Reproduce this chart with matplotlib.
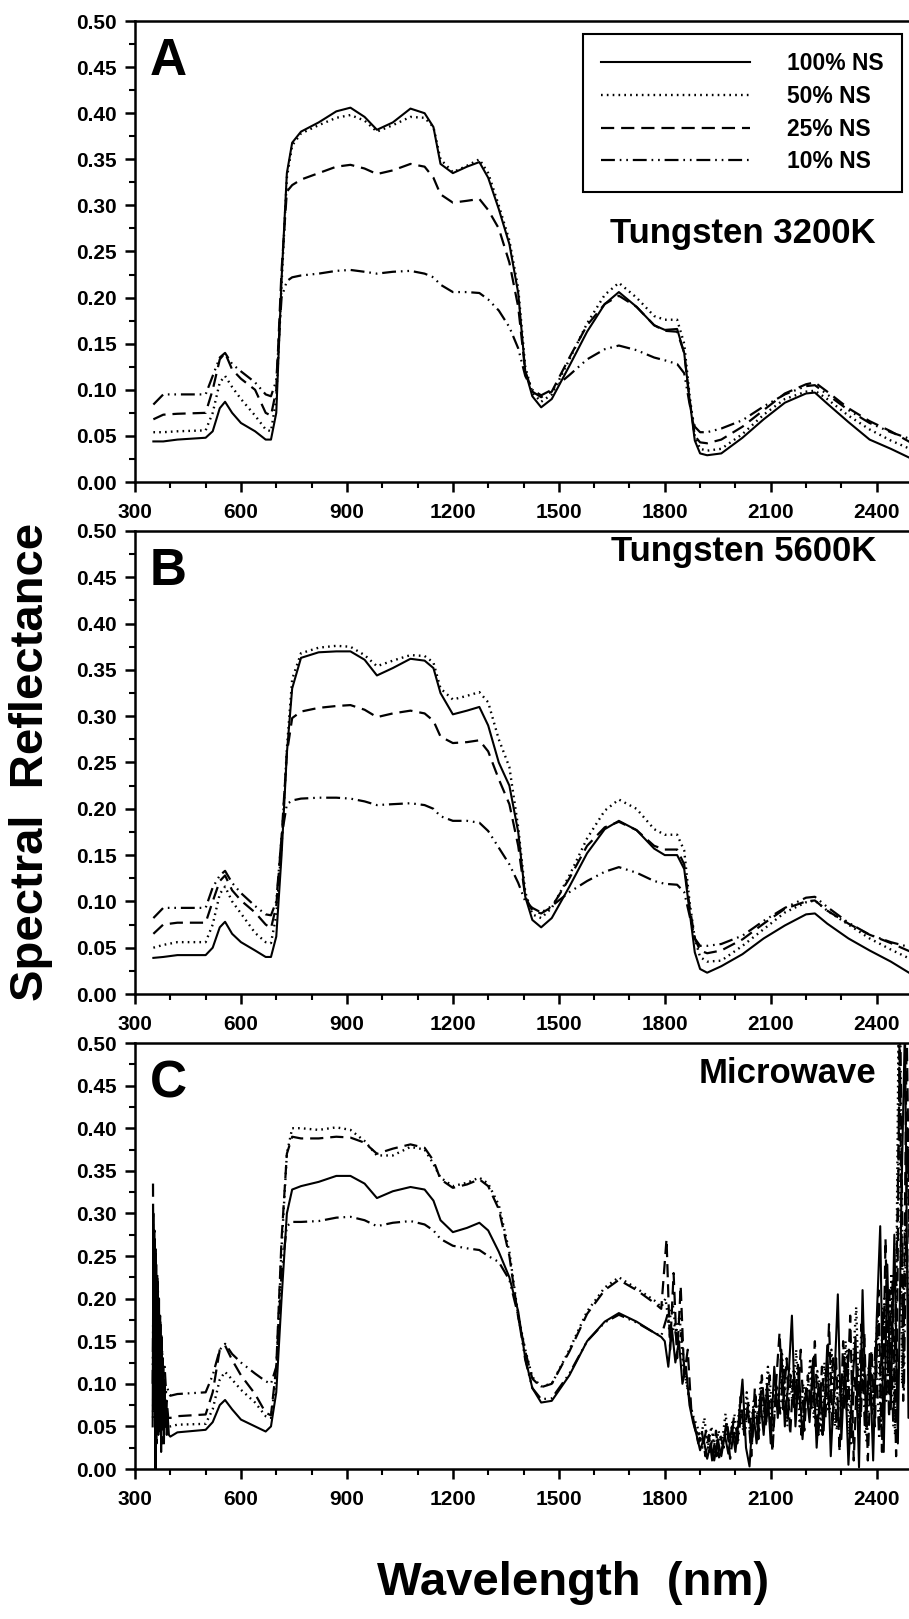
import matplotlib
matplotlib.use('Agg')
import matplotlib.pyplot as plt
from matplotlib.lines import Line2D
from matplotlib.ticker import MultipleLocator, FormatStrFormatter

plt.rcParams['font.family'] = ['Liberation Sans', 'DejaVu Sans']
plt.rcParams['font.weight'] = 'bold'
plt.rcParams['lines.scale_dashes'] = False

labels = ['100% NS', '50% NS', '25% NS', '10% NS']

# wavelength grid used for the smooth spectra (panels A and B)
wl_ab = [352, 380, 420, 500, 520, 540, 555, 575, 600, 640, 670, 685, 700, 715, 730, 745,
         770, 820, 870, 910, 950, 985, 1030, 1080, 1120, 1145, 1165, 1200, 1240, 1275,
         1300, 1330, 1360, 1385, 1405, 1425, 1450, 1480, 1530, 1580, 1630, 1670, 1720,
         1770, 1800, 1835, 1855, 1870, 1885, 1900, 1920, 1960, 2020, 2080, 2140, 2200,
         2225, 2260, 2320, 2380, 2440, 2500]

# Panel A - Tungsten 3200K
a_100 = [0.044, 0.044, 0.046, 0.048, 0.055, 0.080, 0.087, 0.075, 0.064, 0.055, 0.046, 0.046,
         0.075, 0.220, 0.335, 0.368, 0.380, 0.390, 0.402, 0.406, 0.396, 0.382, 0.390, 0.405,
         0.400, 0.385, 0.345, 0.335, 0.342, 0.347, 0.330, 0.296, 0.258, 0.205, 0.120, 0.093,
         0.081, 0.090, 0.126, 0.163, 0.193, 0.206, 0.190, 0.170, 0.165, 0.166, 0.140, 0.090,
         0.045, 0.031, 0.029, 0.031, 0.048, 0.068, 0.086, 0.096, 0.097, 0.085, 0.065, 0.046,
         0.036, 0.025]
a_50 = [0.054, 0.054, 0.055, 0.056, 0.075, 0.108, 0.115, 0.103, 0.090, 0.072, 0.057, 0.055,
        0.090, 0.215, 0.330, 0.365, 0.378, 0.387, 0.395, 0.398, 0.392, 0.380, 0.387, 0.396,
        0.395, 0.385, 0.350, 0.336, 0.343, 0.350, 0.335, 0.300, 0.262, 0.210, 0.125, 0.097,
        0.087, 0.095, 0.133, 0.172, 0.203, 0.216, 0.200, 0.180, 0.176, 0.176, 0.150, 0.095,
        0.050, 0.036, 0.034, 0.036, 0.052, 0.073, 0.090, 0.098, 0.099, 0.090, 0.072, 0.057,
        0.045, 0.035]
a_25 = [0.068, 0.073, 0.074, 0.075, 0.100, 0.133, 0.140, 0.122, 0.112, 0.100, 0.075, 0.072,
        0.100, 0.230, 0.315, 0.322, 0.328, 0.335, 0.342, 0.344, 0.340, 0.334, 0.338, 0.345,
        0.342, 0.330, 0.312, 0.303, 0.305, 0.307, 0.295, 0.275, 0.238, 0.190, 0.120, 0.098,
        0.092, 0.098, 0.135, 0.170, 0.193, 0.202, 0.190, 0.170, 0.164, 0.163, 0.140, 0.090,
        0.050, 0.043, 0.042, 0.046, 0.060, 0.078, 0.096, 0.106, 0.108, 0.098, 0.080, 0.066,
        0.055, 0.042]
a_10 = [0.084, 0.095, 0.095, 0.095, 0.115, 0.135, 0.140, 0.128, 0.120, 0.108, 0.095, 0.093,
        0.110, 0.200, 0.218, 0.222, 0.224, 0.226, 0.229, 0.230, 0.228, 0.226, 0.228, 0.229,
        0.226, 0.222, 0.214, 0.206, 0.206, 0.205, 0.198, 0.186, 0.168, 0.145, 0.115, 0.100,
        0.094, 0.100, 0.116, 0.133, 0.144, 0.148, 0.143, 0.135, 0.132, 0.128, 0.118, 0.085,
        0.060, 0.054, 0.054, 0.058, 0.067, 0.082, 0.095, 0.104, 0.105, 0.095, 0.078, 0.064,
        0.054, 0.046]

# Panel B - Tungsten 5600K
b_100 = [0.039, 0.040, 0.042, 0.042, 0.050, 0.072, 0.078, 0.065, 0.056, 0.047, 0.040, 0.040,
         0.062, 0.150, 0.260, 0.330, 0.363, 0.369, 0.370, 0.370, 0.361, 0.344, 0.352, 0.362,
         0.360, 0.352, 0.325, 0.302, 0.306, 0.310, 0.290, 0.250, 0.225, 0.175, 0.105, 0.080,
         0.072, 0.082, 0.116, 0.152, 0.178, 0.187, 0.177, 0.157, 0.150, 0.150, 0.135, 0.090,
         0.045, 0.027, 0.023, 0.030, 0.043, 0.060, 0.074, 0.086, 0.087, 0.076, 0.060, 0.047,
         0.035, 0.021]
b_50 = [0.050, 0.053, 0.056, 0.056, 0.075, 0.108, 0.116, 0.100, 0.087, 0.066, 0.056, 0.055,
        0.085, 0.160, 0.265, 0.340, 0.368, 0.374, 0.376, 0.375, 0.366, 0.354, 0.360, 0.366,
        0.365, 0.358, 0.330, 0.318, 0.322, 0.326, 0.315, 0.275, 0.245, 0.180, 0.110, 0.086,
        0.082, 0.093, 0.128, 0.168, 0.198, 0.210, 0.200, 0.178, 0.172, 0.172, 0.155, 0.100,
        0.060, 0.040, 0.035, 0.036, 0.052, 0.070, 0.088, 0.099, 0.101, 0.090, 0.075, 0.060,
        0.048, 0.037]
b_25 = [0.065, 0.075, 0.077, 0.077, 0.100, 0.122, 0.128, 0.112, 0.101, 0.088, 0.075, 0.071,
        0.095, 0.170, 0.260, 0.298, 0.305, 0.309, 0.311, 0.312, 0.307, 0.299, 0.303, 0.306,
        0.303, 0.295, 0.278, 0.271, 0.272, 0.274, 0.262, 0.232, 0.205, 0.160, 0.105, 0.090,
        0.087, 0.094, 0.125, 0.160, 0.180, 0.186, 0.177, 0.160, 0.156, 0.156, 0.140, 0.095,
        0.060, 0.047, 0.044, 0.047, 0.059, 0.076, 0.092, 0.100, 0.101, 0.090, 0.076, 0.064,
        0.055, 0.045]
b_10 = [0.082, 0.093, 0.093, 0.093, 0.115, 0.128, 0.133, 0.120, 0.109, 0.095, 0.086, 0.085,
        0.100, 0.170, 0.205, 0.209, 0.211, 0.212, 0.212, 0.211, 0.208, 0.204, 0.205, 0.206,
        0.204, 0.200, 0.192, 0.187, 0.187, 0.185, 0.176, 0.158, 0.140, 0.120, 0.100, 0.093,
        0.088, 0.095, 0.110, 0.122, 0.132, 0.137, 0.131, 0.122, 0.119, 0.118, 0.110, 0.085,
        0.060, 0.052, 0.052, 0.054, 0.063, 0.079, 0.093, 0.104, 0.105, 0.094, 0.077, 0.064,
        0.056, 0.050]

# Panel C - Microwave: noisy start, smooth middle, noisy tail
wl_c = [400, 420, 500, 520, 540, 555, 575, 600, 640, 670, 685, 700, 715, 730, 745, 770, 820,
        870, 910, 950, 985, 1030, 1080, 1120, 1145, 1165, 1200, 1240, 1275, 1300, 1330, 1360,
        1385, 1405, 1425, 1450, 1480, 1530, 1580, 1630, 1670, 1720, 1770, 1790]
c_100 = [0.038, 0.043, 0.046, 0.055, 0.075, 0.081, 0.070, 0.058, 0.050, 0.044, 0.050, 0.090,
         0.200, 0.300, 0.328, 0.332, 0.337, 0.344, 0.344, 0.335, 0.318, 0.326, 0.331, 0.328,
         0.315, 0.292, 0.278, 0.283, 0.289, 0.280, 0.255, 0.225, 0.185, 0.130, 0.095, 0.078,
         0.080, 0.110, 0.150, 0.173, 0.183, 0.173, 0.160, 0.155]
c_50 = [0.050, 0.052, 0.053, 0.070, 0.105, 0.114, 0.105, 0.093, 0.078, 0.062, 0.060, 0.110,
        0.260, 0.370, 0.400, 0.400, 0.398, 0.401, 0.398, 0.385, 0.368, 0.368, 0.378, 0.375,
        0.358, 0.342, 0.332, 0.336, 0.342, 0.335, 0.310, 0.255, 0.180, 0.140, 0.108, 0.097,
        0.100, 0.140, 0.185, 0.213, 0.225, 0.212, 0.198, 0.190]
c_25 = [0.060, 0.062, 0.064, 0.090, 0.140, 0.145, 0.128, 0.110, 0.088, 0.066, 0.063, 0.120,
        0.270, 0.370, 0.390, 0.388, 0.388, 0.390, 0.389, 0.383, 0.370, 0.376, 0.381, 0.377,
        0.362, 0.340, 0.330, 0.334, 0.340, 0.332, 0.305, 0.250, 0.178, 0.138, 0.106, 0.096,
        0.100, 0.138, 0.182, 0.210, 0.222, 0.210, 0.195, 0.188]
c_10 = [0.086, 0.088, 0.090, 0.110, 0.140, 0.147, 0.135, 0.125, 0.112, 0.103, 0.100, 0.120,
        0.230, 0.285, 0.290, 0.290, 0.291, 0.295, 0.296, 0.292, 0.285, 0.289, 0.291, 0.287,
        0.280, 0.270, 0.262, 0.259, 0.257, 0.250, 0.243, 0.222, 0.180, 0.128, 0.095, 0.082,
        0.083, 0.112, 0.150, 0.172, 0.181, 0.172, 0.160, 0.156]

# noisy detector start (350-400 nm)
head_wl_100 = [350, 352, 354, 356, 358, 360, 362, 364, 366, 368, 370, 372, 374, 376, 378, 380,
               382, 384, 386, 388, 390, 393, 396]
head_100 = [0.05, 0.30, 0.08, 0.27, 0.00, 0.24, 0.06, 0.22, 0.04, 0.20, 0.05, 0.17, 0.02, 0.15,
            0.05, 0.12, 0.03, 0.10, 0.05, 0.08, 0.04, 0.06, 0.04]
head_wl_50 = [351, 354, 357, 360, 363, 366, 369, 372, 375, 378, 381, 384, 387, 390, 394, 398]
head_50 = [0.06, 0.22, 0.05, 0.18, 0.06, 0.15, 0.05, 0.12, 0.06, 0.10, 0.05, 0.08, 0.05, 0.065,
           0.05, 0.05]
head_wl_25 = [351, 353, 355, 357, 359, 361, 363, 365, 367, 369, 371, 373, 375, 377, 379, 381,
              384, 387, 390, 394, 398]
head_25 = [0.335, 0.07, 0.28, 0.05, 0.26, 0.03, 0.23, 0.06, 0.20, 0.04, 0.18, 0.05, 0.16, 0.03,
           0.13, 0.06, 0.10, 0.05, 0.08, 0.06, 0.06]
head_wl_10 = [350, 353, 356, 359, 362, 365, 368, 371, 374, 377, 380, 384, 388, 392, 396]
head_10 = [0.10, 0.28, 0.09, 0.25, 0.07, 0.21, 0.09, 0.18, 0.08, 0.14, 0.09, 0.12, 0.09, 0.095,
           0.088]

# noisy tail (1800-2500 nm), 10 nm steps, each series offset a little
tail_wl_100 = list(range(1800, 2501, 10))
tail_100 = [0.150, 0.120, 0.165, 0.125, 0.150, 0.100, 0.120, 0.075, 0.055, 0.040, 0.022, 0.035,
            0.012, 0.030, 0.010, 0.035, 0.015, 0.040, 0.018, 0.050, 0.020, 0.060, 0.105, 0.025,
            0.003, 0.070, 0.030, 0.085, 0.040, 0.100, 0.030, 0.120, 0.060, 0.140, 0.050, 0.105,
            0.180, 0.050, 0.115, 0.035, 0.095, 0.055, 0.130, 0.025, 0.095, 0.045, 0.145, 0.015,
            0.100, 0.205, 0.035, 0.125, 0.005, 0.090, 0.155, 0.002, 0.210, 0.050, 0.135, 0.010,
            0.175, 0.285, 0.020, 0.240, 0.070, 0.275, 0.030, 0.320, 0.520, 0.060, 0.520]
tail_wl_25 = list(range(1805, 2496, 10))
tail_25 = [0.270, 0.140, 0.230, 0.130, 0.215, 0.110, 0.140, 0.070, 0.050, 0.030, 0.045, 0.015,
           0.040, 0.008, 0.045, 0.010, 0.030, 0.055, 0.012, 0.045, 0.025, 0.085, 0.040, 0.075,
           0.015, 0.095, 0.035, 0.110, 0.050, 0.080, 0.020, 0.100, 0.160, 0.070, 0.130, 0.040,
           0.115, 0.075, 0.140, 0.045, 0.110, 0.070, 0.150, 0.040, 0.120, 0.060, 0.170, 0.050,
           0.130, 0.020, 0.150, 0.070, 0.180, 0.010, 0.120, 0.060, 0.160, 0.010, 0.140, 0.050,
           0.210, 0.020, 0.270, 0.060, 0.220, 0.015, 0.520, 0.080, 0.520, 0.200]
tail_wl_50 = list(range(1802, 2493, 10))
tail_50 = [0.200, 0.170, 0.195, 0.160, 0.180, 0.120, 0.100, 0.075, 0.060, 0.050, 0.035, 0.060,
           0.025, 0.050, 0.020, 0.045, 0.030, 0.065, 0.030, 0.055, 0.035, 0.075, 0.045, 0.090,
           0.040, 0.080, 0.050, 0.105, 0.060, 0.120, 0.055, 0.110, 0.070, 0.135, 0.060, 0.120,
           0.075, 0.140, 0.050, 0.100, 0.080, 0.130, 0.060, 0.115, 0.045, 0.125, 0.070, 0.140,
           0.050, 0.110, 0.075, 0.150, 0.040, 0.120, 0.190, 0.055, 0.130, 0.030, 0.120, 0.070,
           0.180, 0.050, 0.200, 0.090, 0.230, 0.040, 0.520, 0.100, 0.300, 0.150]
tail_wl_10 = list(range(1807, 2498, 10))
tail_10 = [0.180, 0.150, 0.170, 0.140, 0.160, 0.110, 0.090, 0.065, 0.045, 0.040, 0.025, 0.045,
           0.020, 0.040, 0.015, 0.040, 0.025, 0.050, 0.030, 0.065, 0.030, 0.070, 0.040, 0.080,
           0.030, 0.085, 0.045, 0.095, 0.055, 0.110, 0.045, 0.100, 0.065, 0.120, 0.050, 0.110,
           0.070, 0.125, 0.040, 0.090, 0.075, 0.120, 0.050, 0.105, 0.040, 0.115, 0.065, 0.130,
           0.045, 0.100, 0.070, 0.140, 0.030, 0.110, 0.060, 0.170, 0.040, 0.120, 0.065, 0.150,
           0.035, 0.190, 0.080, 0.210, 0.050, 0.250, 0.520, 0.090, 0.400, 0.180]

panel_a = [(wl_ab, a_100), (wl_ab, a_50), (wl_ab, a_25), (wl_ab, a_10)]
panel_b = [(wl_ab, b_100), (wl_ab, b_50), (wl_ab, b_25), (wl_ab, b_10)]
panel_c = [
    (head_wl_100 + wl_c + tail_wl_100, head_100 + c_100 + tail_100),
    (head_wl_50 + wl_c + tail_wl_50, head_50 + c_50 + tail_50),
    (head_wl_25 + wl_c + tail_wl_25, head_25 + c_25 + tail_25),
    (head_wl_10 + wl_c + tail_wl_10, head_10 + c_10 + tail_10),
]

styles = [
    dict(linestyle='-', linewidth=1.5),
    dict(linestyle=(0, (1.2, 3.0)), linewidth=1.7),
    dict(linestyle=(0, (9.5, 5.0)), linewidth=1.6),
    dict(linestyle=(0, (10, 3.5, 1.2, 3.5, 1.2, 3.5)), linewidth=1.6),
]

fig = plt.figure(figsize=(9.09, 16.19), dpi=100)
W, H = 909.0, 1619.0
# axes boxes in pixels: left, top, right, bottom (right spine falls just off the image)
boxes = [(135, 21, 912, 482), (135, 531, 912, 994), (135, 1043, 912, 1469)]
letters = ['A', 'B', 'C']
titles = ['Tungsten 3200K', 'Tungsten 5600K', 'Microwave']
title_y = [233, 552, 1073]

axes = []
for i, panel in enumerate([panel_a, panel_b, panel_c]):
    l, t, r, b = boxes[i]
    ax = fig.add_axes([l / W, 1 - b / H, (r - l) / W, (b - t) / H])
    for (x, y), st in zip(panel, styles):
        ax.plot(x, y, color='black', **st)
    ax.set_xlim(300, 2500)
    ax.set_ylim(0, 0.5)
    ax.set_xticks(range(300, 2401, 300))
    ax.xaxis.set_minor_locator(MultipleLocator(100))
    ax.yaxis.set_major_locator(MultipleLocator(0.05))
    ax.yaxis.set_minor_locator(MultipleLocator(0.025))
    ax.yaxis.set_major_formatter(FormatStrFormatter('%.2f'))
    ax.tick_params(which='major', direction='out', length=7, width=1.8, labelsize=15, pad=6)
    ax.tick_params(which='minor', direction='out', length=4, width=1.5)
    ax.tick_params(axis='x', which='major', pad=8)
    for sp in ax.spines.values():
        sp.set_linewidth(1.8)
    ax.text((150 - l) / (r - l), 1 - 16 / (b - t), letters[i], transform=ax.transAxes,
            fontsize=37, fontweight='bold', ha='left', va='top')
    ax.text((876 - l) / (r - l), (b - title_y[i]) / (b - t), titles[i], transform=ax.transAxes,
            fontsize=25, fontweight='bold', ha='right', va='center')
    axes.append(ax)

handles = [Line2D([], [], color='black', **st) for st in styles]
leg = axes[0].legend(handles, labels, loc='upper left', bbox_to_anchor=(583 / W, 1 - 34 / H),
                     bbox_transform=fig.transFigure, fancybox=False, framealpha=1,
                     edgecolor='black', fontsize=16.5, handlelength=6.5, handletextpad=1.6,
                     borderpad=0.8, labelspacing=0.42, borderaxespad=0)
leg.get_frame().set_linewidth(1.5)

fig.text(573 / W, 1 - 1583 / H, 'Wavelength  (nm)', fontsize=34, fontweight='bold',
         ha='center', va='center')
fig.text(31 / W, 1 - 762 / H, 'Spectral  Reflectance', fontsize=34, fontweight='bold',
         rotation=90, ha='center', va='center')

fig.savefig('out.png', dpi=100)
